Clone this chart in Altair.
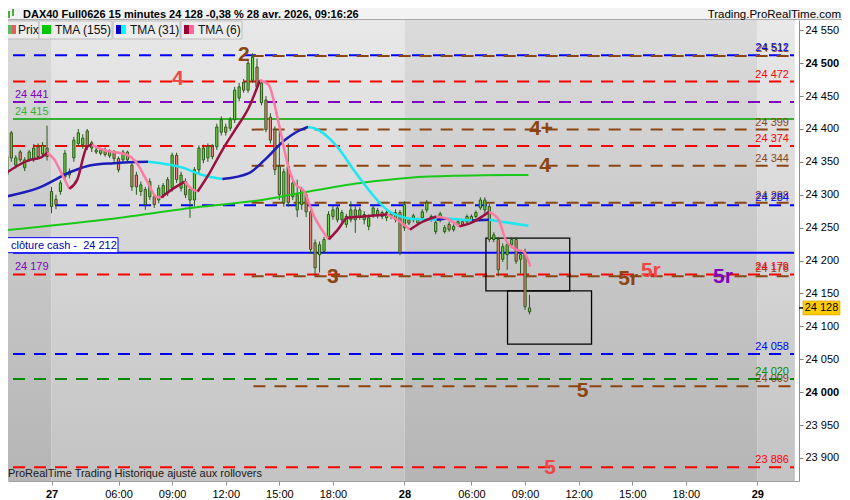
"""DAX40 15-minute chart with TMA overlays and wave levels, ProRealTime style."""

import altair as alt
import pandas as pd

FONT = "Liberation Sans"

# ---- candles (15 min). t = trading hours from the 27 Apr session open, nights removed ----
first_bar_t = -2.5
opens = [
    24330, 24394, 24345, 24365, 24341, 24353, 24353, 24373, 24362, 24371,
    24305, 24293, 24305, 24327, 24330, 24356, 24378, 24376, 24397, 24379,
    24365, 24363, 24368, 24359, 24365, 24355, 24353, 24365, 24345, 24330,
    24305, 24308, 24297, 24297, 24292, 24300, 24323, 24310, 24360, 24310,
    24320, 24292, 24292, 24338, 24353, 24356, 24373, 24373, 24395, 24403,
    24401, 24414, 24447, 24471, 24459, 24474, 24494, 24470, 24444, 24418,
    24399, 24343, 24288, 24343, 24297, 24277, 24285, 24300, 24274, 24227,
    24209, 24214, 24236, 24267, 24280, 24262, 24255, 24262, 24277, 24267,
    24262, 24252, 24270, 24276, 24273, 24265, 24271, 24262, 24273, 24250,
    24262, 24262, 24262, 24265, 24277, 24262, 24244, 24262, 24244, 24255,
    24247, 24255, 24259, 24259, 24259, 24267, 24280, 24277, 24282, 24232,
    24232, 24202, 24209, 24224, 24232, 24202, 24213, 24122,
]
highs = [
    24364, 24397, 24360, 24368, 24357, 24368, 24377, 24378, 24380, 24405,
    24312, 24300, 24322, 24368, 24340, 24388, 24400, 24392, 24400, 24382,
    24372, 24371, 24372, 24369, 24368, 24358, 24368, 24367, 24350, 24335,
    24320, 24312, 24325, 24300, 24315, 24318, 24327, 24364, 24364, 24335,
    24325, 24312, 24342, 24375, 24376, 24378, 24377, 24408, 24419, 24408,
    24418, 24464, 24470, 24476, 24506, 24515, 24507, 24475, 24450, 24424,
    24404, 24400, 24340, 24378, 24322, 24323, 24312, 24305, 24278, 24232,
    24229, 24236, 24275, 24283, 24284, 24277, 24271, 24290, 24285, 24281,
    24275, 24270, 24285, 24280, 24276, 24277, 24274, 24278, 24277, 24290,
    24265, 24271, 24265, 24278, 24292, 24270, 24262, 24274, 24254, 24259,
    24255, 24262, 24262, 24270, 24270, 24276, 24296, 24296, 24286, 24243,
    24236, 24226, 24229, 24236, 24236, 24215, 24218, 24148,
]
lows = [
    24327, 24350, 24340, 24350, 24336, 24350, 24350, 24355, 24358, 24352,
    24272, 24278, 24300, 24322, 24325, 24350, 24374, 24370, 24368, 24365,
    24362, 24360, 24358, 24356, 24350, 24334, 24350, 24348, 24306, 24300,
    24298, 24277, 24292, 24280, 24287, 24295, 24298, 24305, 24318, 24305,
    24295, 24265, 24282, 24333, 24348, 24350, 24354, 24368, 24390, 24390,
    24397, 24409, 24442, 24455, 24455, 24470, 24460, 24436, 24395, 24378,
    24330, 24292, 24282, 24282, 24292, 24266, 24277, 24266, 24210, 24176,
    24182, 24210, 24232, 24262, 24258, 24258, 24250, 24258, 24242, 24262,
    24255, 24246, 24265, 24264, 24263, 24260, 24263, 24258, 24208, 24245,
    24254, 24258, 24254, 24262, 24273, 24259, 24240, 24258, 24241, 24244,
    24244, 24252, 24252, 24255, 24256, 24264, 24277, 24272, 24228, 24228,
    24176, 24198, 24186, 24220, 24195, 24180, 24125, 24118,
]
closes = [
    24358, 24356, 24356, 24353, 24353, 24365, 24371, 24358, 24375, 24358,
    24282, 24285, 24318, 24363, 24335, 24383, 24394, 24386, 24373, 24371,
    24368, 24368, 24361, 24365, 24355, 24338, 24365, 24353, 24312, 24312,
    24315, 24285, 24320, 24285, 24310, 24314, 24303, 24360, 24323, 24330,
    24300, 24308, 24338, 24371, 24371, 24374, 24358, 24403, 24414, 24395,
    24414, 24459, 24464, 24459, 24500, 24509, 24464, 24440, 24399, 24383,
    24338, 24300, 24335, 24288, 24318, 24300, 24308, 24274, 24217, 24189,
    24224, 24232, 24270, 24277, 24262, 24273, 24267, 24277, 24262, 24277,
    24270, 24265, 24280, 24268, 24267, 24273, 24267, 24273, 24212, 24285,
    24257, 24268, 24257, 24274, 24288, 24267, 24258, 24271, 24250, 24247,
    24252, 24259, 24255, 24267, 24267, 24273, 24292, 24292, 24232, 24239,
    24186, 24221, 24224, 24232, 24199, 24209, 24130, 24128,
]
last_price = 24128

# ---- moving averages ----
tma155_t = [-2.6, 2.93, 8.45, 11.77, 13.98, 17.29, 20.06, 22.82, 25.58, 26.69]
tma155_v = [24246, 24262, 24282, 24292, 24303, 24318, 24326, 24329, 24330, 24330]

tma31_t = [-2.6, -0.77, 1.1, 2.21, 3.48, 5.41, 7.35, 8.45, 9.56, 11.05, 11.93, 13.04, 14.14,
           14.36, 14.7, 16.02, 16.9, 17.85, 18.78, 19.67, 20.22, 21.55, 22.1, 23.54, 24.48, 26.69]
tma31_v = [24297, 24310, 24335, 24345, 24348, 24350, 24341, 24330, 24324, 24333, 24353, 24383, 24401,
           24403, 24401, 24372, 24338, 24304, 24277, 24266, 24263, 24262, 24264, 24261, 24262, 24253]

tma6_t = [-2.6, -1.77, -1.22, -0.66, -0.22, 0.17, 0.55, 1.0, 1.44, 1.99, 2.27, 2.93, 4.2, 4.75,
          5.3, 5.86, 6.13, 6.96, 7.46, 7.9, 8.18, 8.84, 9.56, 10.28, 11.05, 11.66, 12.15, 12.71,
          13.26, 13.59, 14.14, 14.7, 15.25, 15.52, 16.02, 16.57, 17.46, 18.78, 19.34, 20.06, 20.77,
          21.55, 22.27, 22.82, 23.54, 24.48, 25.03, 25.41, 25.97, 26.41, 26.8]
tma6_v = [24332, 24346, 24353, 24356, 24364, 24353, 24333, 24309, 24323, 24373, 24376, 24368, 24361, 24349,
          24323, 24297, 24296, 24312, 24320, 24308, 24305, 24333, 24368, 24399, 24433, 24474, 24467, 24409,
          24342, 24318, 24305, 24267, 24242, 24232, 24247, 24265, 24267, 24270, 24262, 24247, 24259,
          24267, 24262, 24252, 24258, 24274, 24262, 24232, 24217, 24214, 24191]

# ---- horizontal levels ----
level_prices = [24512, 24472, 24441, 24415, 24374, 24284, 24212, 24179, 24058, 24020, 23886,
                24511, 24399, 24344, 24288, 24176, 24009]
level_kinds = ['blue', 'red', 'purple', 'green', 'red', 'blue', 'blue', 'red', 'blue', 'darkgreen', 'red',
               'brown', 'brown', 'brown', 'brown', 'brown', 'brown']
level_styles = ['dash', 'dash', 'dash', 'solid', 'dash', 'dash', 'solid', 'dash', 'dash', 'dash', 'dash',
                'dash', 'dash', 'dash', 'dash', 'dash', 'dash']
level_from = [None] * 11 + [11.2, 11.2, 11.2, 11.2, 11.2, 11.3]   # None = whole width

right_label_prices = [24511, 24512, 24472, 24399, 24374, 24344, 24288, 24284, 24176, 24179,
                      24009, 24020, 24058, 23886]
right_label_kinds = ['brown', 'blue', 'red', 'brown', 'red', 'brown', 'brown', 'blue', 'brown', 'red',
                     'brown', 'darkgreen', 'blue', 'red']
left_label_prices = [24441, 24415, 24179]
left_label_kinds = ['purple', 'green', 'purple']
cash_close = 24212

# ---- wave count labels ----
wave_text = ['4', '2', '3', '4+', '4', '5r', '5r', '5r', '5', '5']
wave_t = [7.07, 10.77, 15.75, 27.4, 27.62, 32.27, 33.54, 37.57, 29.72, 27.9]
wave_p = [24476, 24512, 24175, 24400, 24344, 24172, 24184, 24175, 24002, 23885]
wave_kinds = ['salmon', 'brown', 'brown', 'brown', 'brown', 'brown', 'salmon', 'purple', 'brown', 'salmon']

# ---- zone boxes ----
box_t0 = [24.31, 25.52]
box_t1 = [29.0, 30.22]
box_p0 = [24154, 24073]
box_p1 = [24234, 24154]

# ---- session bands and x ticks ----
band_t0 = [-2.6, 0.0, 19.75, 39.5]
band_t1 = [0.0, 19.75, 39.5, 41.6]
band_shade = ['dark', 'light', 'dark', 'light']
x_tick_t = [0, 3.75, 6.75, 9.75, 12.75, 15.75, 19.75, 23.5, 26.5, 29.5, 32.5, 35.5, 39.5]
x_tick_labels = ['27', '06:00', '09:00', '12:00', '15:00', '18:00', '28',
                 '06:00', '09:00', '12:00', '15:00', '18:00', '29']
day_ticks = [0, 19.75, 39.5]

PALETTE = {'blue': '#0000ff', 'red': '#ff0000', 'purple': '#8000c0', 'green': '#33b233',
           'darkgreen': '#008a00', 'brown': '#8b4513', 'salmon': '#f04646'}

T_MIN, T_MAX = -2.155, 41.55
P_MIN, P_MAX = 23865.0, 24565.6
W, H = 791, 461


def sp(v):
    return f"{v:,}".replace(",", " ")


def slope_segments(ts, vals, up, down, name):
    rows, seg, prev = [], 0, None
    for k in range(len(ts) - 1):
        col = up if vals[k + 1] >= vals[k] else down
        if col != prev:
            seg += 1
            rows.append({'t': ts[k], 'p': vals[k], 'seg': f'{name}{seg}', 'color': col})
            prev = col
        rows.append({'t': ts[k + 1], 'p': vals[k + 1], 'seg': f'{name}{seg}', 'color': col})
    return rows


x_scale = alt.Scale(domain=[T_MIN, T_MAX], nice=False, zero=False)
y_scale = alt.Scale(domain=[P_MIN, P_MAX], nice=False, zero=False)

label_lookup = ("[" + ",".join(f"'{s}'" for s in x_tick_labels) + "][indexof(["
                + ",".join(str(v) for v in x_tick_t) + "], datum.value)]")
day_test = " || ".join(f"datum.value == {d}" for d in day_ticks)

x_axis = alt.Axis(values=x_tick_t, labelExpr=label_lookup, title=None, grid=False,
                  labelFontWeight={"condition": {"test": day_test, "value": "bold"}, "value": "normal"},
                  labelFont=FONT, labelFontSize=11, labelColor='#000000', labelPadding=3,
                  labelFlush=False, labelOverlap=False, tickSize=4, tickColor='#909090',
                  domainColor='#a0a0a0')
y_axis = alt.Axis(orient='right', values=list(range(23900, 24551, 50)), title=None, grid=False,
                  labelExpr="replace(format(datum.value, ','), ',', ' ')",
                  labelFontWeight={"condition": {"test": "datum.value % 500 == 0", "value": "bold"},
                                   "value": "normal"},
                  labelFont=FONT, labelFontSize=11, labelColor='#000000', labelPadding=2,
                  labelOverlap=False, tickSize=4, tickColor='#808080', domainColor='#909090')


def X(f):
    return alt.X(f'{f}:Q', scale=x_scale, axis=x_axis)


def Y(f):
    return alt.Y(f'{f}:Q', scale=y_scale, axis=y_axis)


def gradient(top, bottom):
    return alt.LinearGradient(gradient='linear', x1=0, x2=0, y1=0, y2=1,
                              stops=[alt.GradientStop(color=top, offset=0),
                                     alt.GradientStop(color=bottom, offset=1)])


# ---- tables ----
bands = pd.DataFrame({'t0': band_t0, 't1': band_t1, 'shade': band_shade})

candles = pd.DataFrame({'t': [first_bar_t + 0.25 * i for i in range(len(opens))],
                        'o': opens, 'h': highs, 'l': lows, 'c': closes})
candles['fill'] = ['#6ad640' if c >= o else '#f0807a' for o, c in zip(opens, closes)]

levels = pd.DataFrame({'p': level_prices,
                       'color': [PALETTE[k] for k in level_kinds],
                       'style': level_styles,
                       't0': [T_MIN if s is None else s for s in level_from],
                       't1': T_MAX})

right_labels = pd.DataFrame({'p': right_label_prices, 'text': [sp(p) for p in right_label_prices],
                             'color': [PALETTE[k] for k in right_label_kinds], 't': 41.27})
left_labels = pd.DataFrame({'p': left_label_prices, 'text': [sp(p) for p in left_label_prices],
                            'color': [PALETTE[k] for k in left_label_kinds], 't': -2.05})
waves = pd.DataFrame({'t': wave_t, 'p': wave_p, 'text': wave_text,
                      'color': [PALETTE[k] for k in wave_kinds]})
boxes = pd.DataFrame({'t0': box_t0, 't1': box_t1, 'p0': box_p0, 'p1': box_p1})

ma155 = pd.DataFrame({'t': tma155_t, 'p': tma155_v})
ma31 = pd.DataFrame(slope_segments(tma31_t, tma31_v, '#1c1cb8', '#1ee6f0', 'a'))
ma6 = pd.DataFrame(slope_segments(tma6_t, tma6_v, '#9a1040', '#ff7aa2', 'b'))
cash = pd.DataFrame({'p': [cash_close], 'text': [f"clôture cash -\u00a0 {sp(cash_close)}"]})
last = pd.DataFrame({'p': [last_price], 'text': [sp(last_price)]})
one = pd.DataFrame({'k': [0]})

# ---- layers ----
band_light = alt.Chart(bands).transform_filter("datum.shade == 'light'").mark_rect(
    fill=gradient('#e8e8e8', '#c3c3c3'), clip=True).encode(
    x=X('t0'), x2='t1:Q', y=alt.value(0), y2=alt.value(H))
band_dark = alt.Chart(bands).transform_filter("datum.shade == 'dark'").mark_rect(
    fill=gradient('#dbdbdb', '#b5b5b5'), clip=True).encode(
    x=X('t0'), x2='t1:Q', y=alt.value(0), y2=alt.value(H))

level_rules = alt.Chart(levels).mark_rule(strokeWidth=2, clip=True).encode(
    x=X('t0'), x2='t1:Q', y=Y('p'),
    color=alt.Color('color:N', scale=None),
    strokeDash=alt.StrokeDash('style:N', legend=None,
                              scale=alt.Scale(domain=['solid', 'dash'], range=[[1, 0], [12, 9]])))

zone_boxes = alt.Chart(boxes).mark_rect(fillOpacity=0, stroke='#000000', strokeWidth=1.3).encode(
    x=X('t0'), x2='t1:Q', y=Y('p0'), y2='p1:Q')

wicks = alt.Chart(candles).mark_rule(color='#275a17', strokeWidth=1, clip=True).encode(
    x=X('t'), y=Y('l'), y2='h:Q')
bodies = alt.Chart(candles).mark_bar(size=2.2, stroke='#275a17', strokeWidth=1, clip=True).encode(
    x=X('t'), y=Y('o'), y2='c:Q', fill=alt.Fill('fill:N', scale=None))

line155 = alt.Chart(ma155).mark_line(color='#19c819', strokeWidth=2, interpolate='monotone',
                                      clip=True).encode(x=X('t'), y=Y('p'))
line31 = alt.Chart(ma31).mark_line(strokeWidth=2.5, interpolate='monotone', clip=True).encode(
    x=X('t'), y=Y('p'), color=alt.Color('color:N', scale=None), detail='seg:N')
line6 = alt.Chart(ma6).mark_line(strokeWidth=2.5, interpolate='monotone', clip=True).encode(
    x=X('t'), y=Y('p'), color=alt.Color('color:N', scale=None), detail='seg:N')

r_text = alt.Chart(right_labels).mark_text(font=FONT, fontSize=11, align='right',
                                            baseline='alphabetic', dy=-4).encode(
    x=X('t'), y=Y('p'), text='text:N', color=alt.Color('color:N', scale=None))
l_text = alt.Chart(left_labels).mark_text(font=FONT, fontSize=11, align='left',
                                           baseline='alphabetic', dy=-4).encode(
    x=X('t'), y=Y('p'), text='text:N', color=alt.Color('color:N', scale=None))
wave_marks = alt.Chart(waves).mark_text(font=FONT, fontSize=21, fontWeight='bold',
                                        baseline='middle').encode(
    x=X('t'), y=Y('p'), text='text:N', color=alt.Color('color:N', scale=None))

cash_box = alt.Chart(cash).mark_point(
    shape="M-1,-0.1316L1,-0.1316L1,0.1316L-1,0.1316Z", size=12996, filled=True, opacity=1,
    color='#ffffff', stroke='#0000ff', strokeWidth=1, yOffset=-7.5).encode(
    x=alt.value(53), y=Y('p'))
cash_text = alt.Chart(cash).mark_text(font=FONT, fontSize=11, align='left', baseline='middle',
                                      dy=-7, color='#0000b0').encode(
    x=alt.value(3), y=Y('p'), text='text:N')

tag = alt.Chart(last).mark_point(
    shape="M-1,-0.378L1,-0.378L1,0.378L-1,0.378Z", size=1369, filled=True, opacity=1,
    color='#ffcc00', stroke='#d0a000', strokeWidth=0.6).encode(x=alt.value(813.5), y=Y('p'))
tag_tick = alt.Chart(last).mark_rule(color='#000000', strokeWidth=1.5).encode(
    x=alt.value(791), x2=alt.value(795), y=Y('p'))
tag_text = alt.Chart(last).mark_text(font=FONT, fontSize=11, baseline='middle', color='#000000').encode(
    x=alt.value(813.5), y=Y('p'), text='text:N')


def deco_rect(x0, x1, y0, y1, **mark):
    return alt.Chart(one).mark_rect(**mark).encode(
        x=alt.value(x0), x2=alt.value(x1), y=alt.value(y0), y2=alt.value(y1))


def deco_text(txt, x, y, **mark):
    return alt.Chart(one).mark_text(text=txt, font=FONT, baseline='middle', **mark).encode(
        x=alt.value(x), y=alt.value(y))


header = [
    deco_rect(-2, 845, -14, 0, fill='#f3f3f3'),
    alt.Chart(one).mark_rule(color='#a8a8a8', strokeWidth=1).encode(
        x=alt.value(0), x2=alt.value(842), y=alt.value(-0.5)),
    deco_rect(0, 2, -9, -2, fill='#4cae3c'),
    deco_rect(4, 6, -11, -4, fill='#4cae3c'),
    deco_text("DAX40 Full0626 15 minutes 24 128 -0,38 % 28 avr. 2026, 09:16:26", 15, -5,
              fontSize=11, fontWeight='bold', align='left', color='#000000'),
    deco_text("Trading.ProRealTime.com", 833, -5, fontSize=11.5, align='right', color='#000000'),
    # legend row
    deco_rect(-2, 31, 1, 19, fill='#ececec', stroke='#bdbdbd', strokeWidth=1),
    deco_rect(31, 104, 1, 19, fill='#ececec', stroke='#bdbdbd', strokeWidth=1),
    deco_rect(105, 172, 1, 19, fill='#ececec', stroke='#bdbdbd', strokeWidth=1),
    deco_rect(173, 234, 1, 19, fill='#ececec', stroke='#bdbdbd', strokeWidth=1),
    deco_rect(0, 4, 5, 14, fill='#5cb85c'),
    deco_rect(4, 8, 5, 14, fill='#e06060'),
    deco_text("Prix", 10, 10, fontSize=12, align='left', color='#111111'),
    deco_rect(34, 43, 5, 14, fill='#00c800'),
    deco_text("TMA (155)", 47, 10, fontSize=12, align='left', color='#111111'),
    deco_rect(108, 113, 5, 14, fill='#0000c8'),
    deco_rect(113, 118, 5, 14, fill='#00ffff'),
    deco_text("TMA (31)", 122, 10, fontSize=12, align='left', color='#111111'),
    deco_rect(176, 181, 5, 14, fill='#990033'),
    deco_rect(181, 186, 5, 14, fill='#ff6699'),
    deco_text("TMA (6)", 190, 10, fontSize=12, align='left', color='#111111'),
    deco_text("ProRealTime Trading  Historique ajusté aux rollovers", 0, H - 7,
              fontSize=11, align='left', color='#1a1a1a'),
]

chart = alt.layer(
    band_light, band_dark, level_rules, zone_boxes, wicks, bodies,
    line155, line31, line6, r_text, l_text, wave_marks, cash_box, cash_text,
    tag, tag_tick, tag_text, *header,
).properties(
    width=W, height=H,
    autosize=alt.AutoSizeParams(type='none'),
    padding={"left": 0, "top": 12, "right": 43, "bottom": 17},
    background='#ffffff',
).configure_view(strokeWidth=0)

chart.save("out.html", embed_options={"renderer": "svg", "actions": False})
